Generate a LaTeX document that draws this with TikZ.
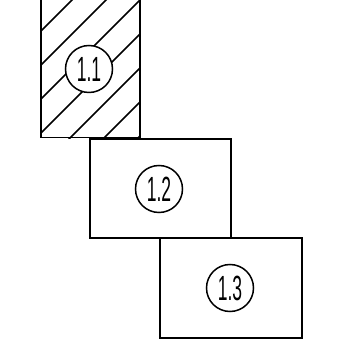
\documentclass[tikz,border=0pt]{standalone}
\usepackage{fontspec}
\usepackage{graphicx}
\setmainfont{Liberation Sans}
\begin{document}
\begin{tikzpicture}[x=1pt,y=1pt,
  box/.style={draw,line width=1.8pt,rectangle,inner sep=0pt},
  tag/.style={draw,line width=1.5pt,circle,fill=white,minimum size=47pt,inner sep=0pt,font=\fontsize{35}{35}\selectfont},
  hatch/.style={line width=1.7pt}]
\useasboundingbox (0,0) rectangle (352,361);
% box 1 (extends above the top edge)
\node[box,minimum width=99pt,minimum height=160pt,anchor=south west] (b1) at (40,222.5) {};
\begin{scope}
  \clip (40,222.5) rectangle (139,382.5);
  \foreach \c in {38,72,106,140,174,208,242,276}
    \draw[hatch] (0,361-\c) -- (200,561-\c);
\end{scope}
\node[box,minimum width=141pt,minimum height=99pt,anchor=north west] (b2) at (89,222.5) {};
\node[box,minimum width=142pt,minimum height=100pt,anchor=north west] (b3) at (159,123.5) {};
\node[tag] (c1) at (89,292) {\scalebox{0.5}[1]{1.1}};
\node[tag] (c2) at (159,172) {\scalebox{0.5}[1]{1.2}};
\node[tag] (c3) at (230,73) {\scalebox{0.5}[1]{1.3}};
\end{tikzpicture}
\end{document}
